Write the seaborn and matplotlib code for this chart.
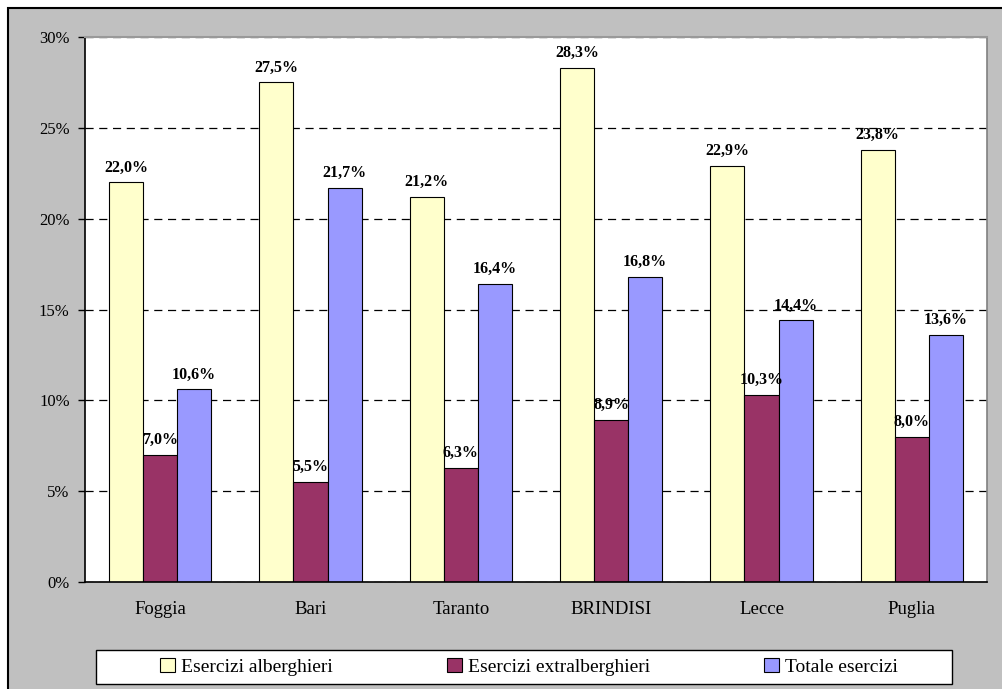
import matplotlib
matplotlib.use("Agg")
import matplotlib.pyplot as plt
import matplotlib.patches as mpatches
from matplotlib.ticker import PercentFormatter, FixedLocator
import numpy as np
import pandas as pd
import seaborn as sns

province = ['Foggia', 'Bari', 'Taranto', 'BRINDISI', 'Lecce', 'Puglia']
serie = ['Esercizi alberghieri', 'Esercizi extralberghieri', 'Totale esercizi']
alberghieri = [22.0, 27.5, 21.2, 28.3, 22.9, 23.8]
extralberghieri = [7.0, 5.5, 6.3, 8.9, 10.3, 8.0]
totale = [10.6, 21.7, 16.4, 16.8, 14.4, 13.6]
colori = ['#FFFFCC', '#993366', '#9999FF']

df = pd.DataFrame({
    'provincia': province * 3,
    'serie': [serie[0]] * 6 + [serie[1]] * 6 + [serie[2]] * 6,
    'valore': alberghieri + extralberghieri + totale,
})

sns.set_style("white")
plt.rcParams['font.family'] = ['Liberation Serif', 'DejaVu Serif']
plt.rcParams['text.color'] = 'black'

fig = plt.figure(figsize=(10.03, 6.89), dpi=100)
fig.patch.set_facecolor('white')
# gray outer frame
frame = mpatches.Rectangle((8 / 1003, -0.05), 1.2, 1.05 - 8 / 689,
                           transform=fig.transFigure, facecolor='#C0C0C0',
                           edgecolor='black', linewidth=1.5, zorder=-10)
fig.add_artist(frame)
# legend box
legbox = mpatches.Rectangle((96 / 1003, 1 - 684 / 689), (952 - 96) / 1003, 34 / 689,
                            transform=fig.transFigure, facecolor='white',
                            edgecolor='black', linewidth=1, zorder=-5)
fig.add_artist(legbox)

ax = fig.add_axes([85 / 1003, 1 - 582 / 689, (987 - 85) / 1003, (582 - 37) / 689])
ax.set_facecolor('white')

sns.barplot(data=df, x='provincia', y='valore', hue='serie', order=province,
            hue_order=serie, palette=colori, width=0.68, gap=0,
            edgecolor='black', linewidth=0.8, saturation=1, ax=ax)

for cont in ax.containers:
    labs = [f"{b.get_height():.1f}%".replace('.', ',') for b in cont]
    ax.bar_label(cont, labels=labs, padding=5, fontsize=11.5, fontweight='bold',
                 color='black')

ax.set_ylim(0, 30)
ax.set_xlim(-0.5, 5.5)
ax.set_yticks(np.arange(0, 31, 5))
ax.yaxis.set_major_formatter(PercentFormatter(decimals=0))
ax.yaxis.grid(True, color='black', linestyle=(0, (6.5, 4.5)), linewidth=0.9)
ax.set_axisbelow(True)
ax.set_xlabel('')
ax.set_ylabel('')

ax.xaxis.set_minor_locator(FixedLocator(np.arange(-0.5, 6, 1)))
ax.tick_params(axis='x', which='major', length=0, pad=14, labelsize=13.5,
               labelcolor='black')
ax.tick_params(axis='x', which='minor', length=5, width=1, color='black', direction='out')
ax.tick_params(axis='y', which='major', length=5, width=1, color='black',
               direction='out', labelsize=12, pad=6, left=True, labelcolor='black')

ax.spines['left'].set_color('black')
ax.spines['bottom'].set_color('black')
ax.spines['top'].set_color('#999999')
ax.spines['right'].set_color('#808080')
for s in ax.spines.values():
    s.set_linewidth(1.2)
    s.set_visible(True)
    s.set_zorder(5)
ax.spines['top'].set_linewidth(1.5)

handles, labels = ax.get_legend_handles_labels()
ax.legend_.remove()
leg = fig.legend(handles, labels, ncol=3, loc='center',
                 bbox_to_anchor=(529 / 1003, 1 - 667 / 689),
                 fontsize=14, frameon=False, handlelength=0.75,
                 handleheight=0.75, handletextpad=0.3, columnspacing=5.9,
                 labelcolor='black')
for h in leg.legend_handles:
    h.set_edgecolor('black')
    h.set_linewidth(0.8)

fig.savefig('out.png', dpi=100)
